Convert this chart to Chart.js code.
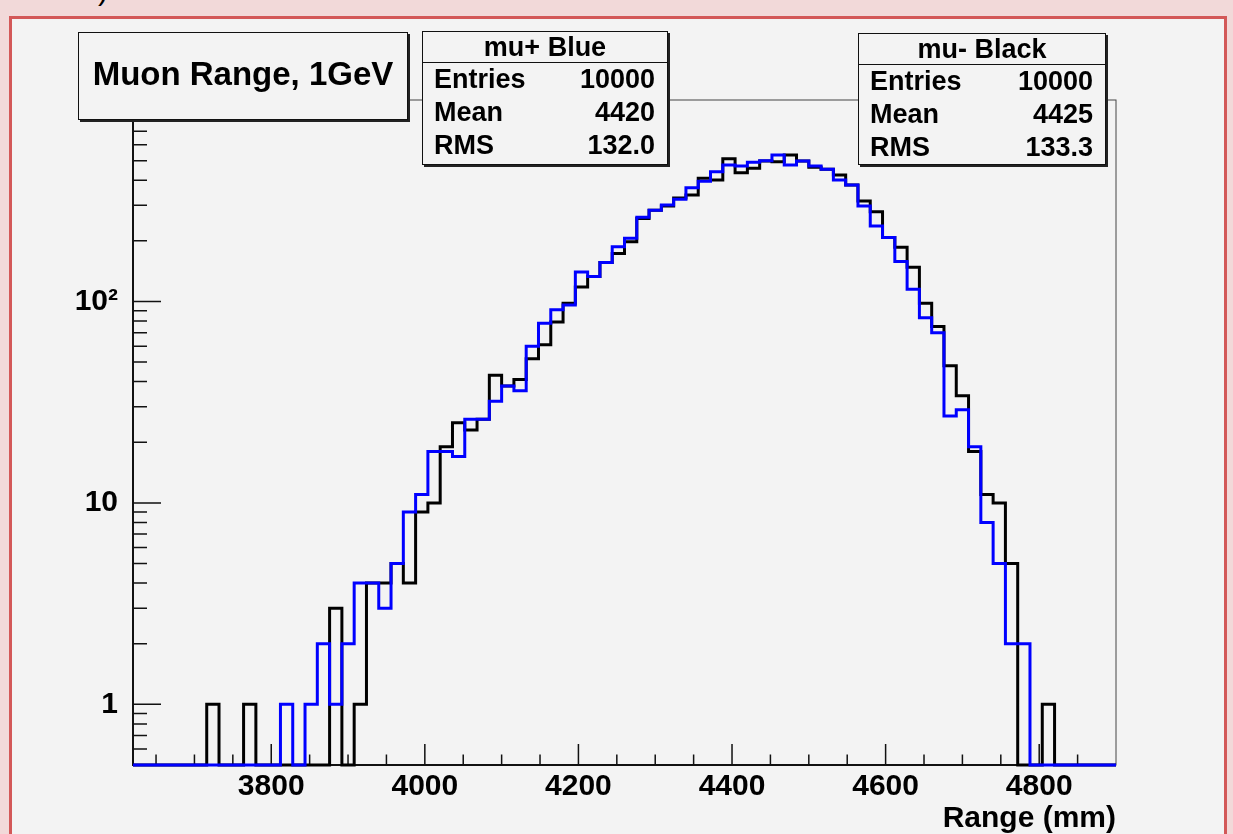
<!DOCTYPE html>
<html>
<head>
<meta charset="utf-8">
<script src="https://cdn.jsdelivr.net/npm/chart.js@4.4.1/dist/chart.umd.min.js"></script>
<style>
  html, body { margin: 0; padding: 0; }
  body {
    width: 1233px; height: 834px; overflow: hidden; position: relative;
    background: #f2d9d9;
    font-family: "Liberation Sans", Arial, Helvetica, sans-serif; font-weight: bold; color: #000;
  }
  #pad {
    position: absolute; left: 9px; top: 16px; width: 1212px; height: 840px;
    border: 3px solid #d35858; background: #f3f3f3;
  }
  #frag { position: absolute; left: 98px; top: -27px; font-size: 30px; font-weight: normal; }
  canvas { position: absolute; left: 0; top: 0; }
  .box {
    position: absolute; background: #f3f3f3; border: 1.5px solid #111;
    box-shadow: 2px 2px 0 #222; box-sizing: border-box;
  }
  #title {
    left: 78px; top: 32px; width: 330px; height: 88px;
    display: flex; align-items: center; justify-content: center;
    font-size: 33px; padding-bottom: 5px;
  }
  .stats .head { text-align: center; font-size: 27px; line-height: 30px; height: 30px; border-bottom: 1.5px solid #111; }
  .stats .row { display: flex; justify-content: space-between; font-size: 27px; line-height: 33px; padding: 0 12px 0 11px; }
</style>
</head>
<body>
<div id="pad"></div>
<div id="frag">)</div>
<canvas id="c" width="1233" height="834"></canvas>
<div class="box" id="title">Muon Range, 1GeV</div>
<div class="box stats" id="statsPlus" style="left:422px; top:31px; width:246px; height:134px;"></div>
<div class="box stats" id="statsMinus" style="left:858px; top:33px; width:248px; height:132px;"></div>
<script>
// histogram binning: 80 bins of 16 mm from 3620 to 4900 mm
const xMin = 3620;
const xMax = 4900;
const binWidth = 16;

// counts per bin, mu+ (blue)
const muPlus = [
  0, 0, 0, 0, 0, 0, 0, 0, 0, 0,
  0, 0, 1, 0, 1, 2, 1, 2, 4, 4,
  3, 5, 9, 11, 18, 18, 17, 26, 26, 32,
  38, 36, 60, 78, 91, 96, 140, 133, 156, 187,
  206, 262, 284, 301, 322, 367, 395, 441, 476, 470,
  491, 500, 533, 476, 498, 470, 453, 401, 379, 298,
  237, 208, 158, 115, 83, 70, 27, 29, 19, 8,
  5, 2, 2, 0, 0, 0, 0, 0, 0, 0
];

// counts per bin, mu- (black)
const muMinus = [
  0, 0, 0, 0, 0, 0, 1, 0, 0, 1,
  0, 0, 0, 0, 0, 0, 3, 0, 1, 4,
  4, 5, 4, 9, 10, 19, 25, 23, 26, 43,
  38, 41, 52, 61, 79, 98, 118, 133, 156, 173,
  198, 258, 284, 298, 326, 338, 409, 401, 511, 436,
  458, 498, 494, 533, 498, 463, 453, 424, 379, 315,
  279, 208, 186, 148, 98, 75, 48, 34, 18, 11,
  10, 5, 0, 0, 1, 0, 0, 0, 0, 0
];

const statsPlus = { title: "mu+ Blue", entries: "10000", mean: "4420", rms: "132.0" };
const statsMinus = { title: "mu- Black", entries: "10000", mean: "4425", rms: "133.3" };

const xTickValues = [3800, 4000, 4200, 4400, 4600, 4800];
const yTickValues = [1, 10, 100];
const yTickLabels = ["1", "10", "10\u00b2"];
const yMin = 0.5;
const yMax = 1000;

function fillStats(id, s) {
  const el = document.getElementById(id);
  el.innerHTML = '<div class="head">' + s.title + '</div>' +
    '<div class="row"><span>Entries</span><span>' + s.entries + '</span></div>' +
    '<div class="row"><span>Mean</span><span>' + s.mean + '</span></div>' +
    '<div class="row"><span>RMS</span><span>' + s.rms + '</span></div>';
}
fillStats("statsPlus", statsPlus);
fillStats("statsMinus", statsMinus);

// points at the left bin edges, plus the closing right edge; empty bins sit on the axis floor
function histPoints(counts) {
  const pts = counts.map((c, i) => ({ x: xMin + i * binWidth, y: c > 0 ? c : yMin }));
  pts.push({ x: xMax, y: counts[counts.length - 1] > 0 ? counts[counts.length - 1] : yMin });
  return pts;
}

// ROOT style frame with inward tick marks
const rootFrame = {
  id: "rootFrame",
  beforeDatasetsDraw(chart) {
    const { ctx, chartArea: a, scales: { x, y } } = chart;
    ctx.save();
    ctx.strokeStyle = "#444";
    ctx.lineWidth = 1;
    ctx.strokeRect(a.left, a.top, a.right - a.left, a.bottom - a.top);
    ctx.strokeStyle = "#111";
    ctx.lineWidth = 2;
    ctx.beginPath();
    ctx.moveTo(a.left, a.top); ctx.lineTo(a.left, a.bottom); ctx.lineTo(a.right, a.bottom);
    ctx.stroke();
    ctx.lineWidth = 1.5;
    ctx.beginPath();
    for (let v = 3650; v < xMax; v += 50) {
      const px = x.getPixelForValue(v);
      const len = v % 200 === 0 ? 21 : 10.5;
      ctx.moveTo(px, a.bottom); ctx.lineTo(px, a.bottom - len);
    }
    for (let dec = 0.1; dec < yMax; dec *= 10) {
      for (let m = 1; m < 10; m++) {
        const v = dec * m;
        if (v < yMin || v > yMax) continue;
        const py = y.getPixelForValue(v);
        const len = m === 1 ? 28 : 14;
        ctx.moveTo(a.left, py); ctx.lineTo(a.left + len, py);
      }
    }
    ctx.stroke();
    ctx.restore();
  }
};

const font = { family: '"Liberation Sans", Arial, sans-serif', size: 30, weight: "bold" };

new Chart(document.getElementById("c"), {
  type: "line",
  data: {
    datasets: [
      {
        label: statsPlus.title,
        data: histPoints(muPlus),
        borderColor: "#0000ff",
        borderWidth: 3,
        stepped: "before",
        pointRadius: 0,
        fill: false,
        clip: 4
      },
      {
        label: statsMinus.title,
        data: histPoints(muMinus),
        borderColor: "#000000",
        borderWidth: 3,
        stepped: "before",
        pointRadius: 0,
        fill: false,
        clip: 4
      }
    ]
  },
  options: {
    responsive: false,
    animation: false,
    layout: { padding: { left: 0, top: 100, right: 117, bottom: 0 } },
    plugins: {
      legend: { display: false },
      tooltip: { enabled: false }
    },
    scales: {
      x: {
        type: "linear",
        min: xMin,
        max: xMax,
        grid: { display: false, drawTicks: false },
        border: { display: false },
        afterBuildTicks: (s) => { s.ticks = xTickValues.map((v) => ({ value: v })); },
        afterFit: (s) => { s.height = 69; },
        ticks: { font: font, color: "#000", padding: 4, maxRotation: 0, autoSkip: false, callback: (v) => String(v) },
        title: {
          display: true, text: "Range (mm)", align: "end",
          font: { family: font.family, size: 30, weight: "bold", lineHeight: 1 },
          color: "#000", padding: { top: 0, bottom: 0 }
        }
      },
      y: {
        type: "logarithmic",
        min: yMin,
        max: yMax,
        grid: { display: false, drawTicks: false },
        border: { display: false },
        afterBuildTicks: (s) => { s.ticks = yTickValues.map((v) => ({ value: v })); },
        afterFit: (s) => { s.width = 133; },
        ticks: {
          font: font,
          color: "#000",
          padding: 15,
          autoSkip: false,
          callback: (v) => { const i = yTickValues.indexOf(v); return i >= 0 ? yTickLabels[i] : ""; }
        }
      }
    }
  },
  plugins: [rootFrame]
});
</script>
</body>
</html>
